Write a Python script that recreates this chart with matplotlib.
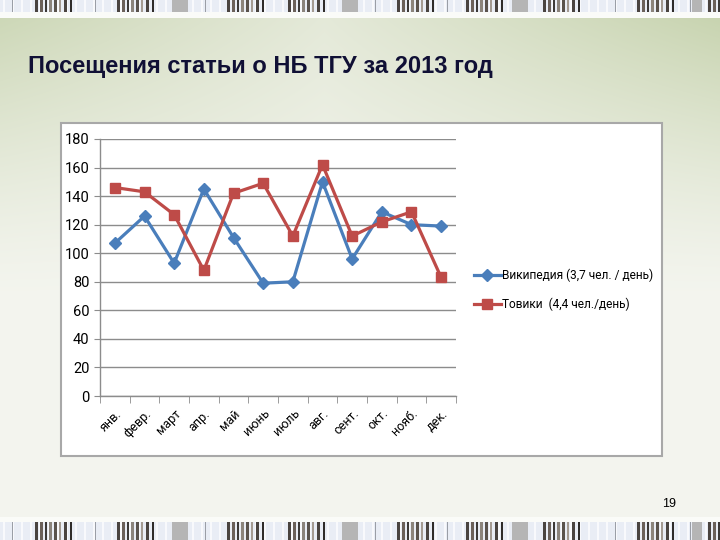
import numpy as np
import matplotlib
matplotlib.use("Agg")
import matplotlib.pyplot as plt
from matplotlib.patches import Rectangle
from matplotlib.lines import Line2D

months = ["янв.", "февр.", "март", "апр.", "май", "июнь", "июль", "авг.", "сент.", "окт.", "нояб.", "дек."]
wiki = [107, 126, 93, 145, 111, 79, 80, 150, 96, 129, 120, 119]
towiki = [146, 143, 127, 88, 142, 149, 112, 162, 112, 122, 129, 83]
wiki_label = "Википедия (3,7 чел. / день)"
towiki_label = "Товики  (4,4 чел./день)"
title = "Посещения статьи о НБ ТГУ за 2013 год"
yticks = [0, 20, 40, 60, 80, 100, 120, 140, 160, 180]

W, H = 720, 540
fig = plt.figure(figsize=(7.2, 5.4), dpi=100)

# background gradient
bg = fig.add_axes([0, 0, 1, 1], zorder=-10)
bg.set_axis_off()
yy, xx = np.mgrid[0:H, 0:W]
xf = xx / W
yf = yy / H
light = np.array([0.955, 0.96, 0.935])
green = np.array([0.77, 0.82, 0.67])
w = np.clip(1 - yf / 0.55, 0, 1) ** 1.3 * (0.35 + 0.65 * np.abs(xf - 0.45) / 0.55)
w = np.clip(w, 0, 1)
img = light[None, None, :] * (1 - w[..., None]) + green[None, None, :] * w[..., None]
bg.imshow(img, extent=[0, W, H, 0], aspect="auto")
bg.set_xlim(0, W)
bg.set_ylim(H, 0)

# barcode strips
def strip(y0, y1):
    bg.add_patch(Rectangle((0, y0), W, y1 - y0, color="#e9edf5", lw=0))
    for x in range(0, W, 9):
        bg.add_patch(Rectangle((x + 3, y0), 1.5, y1 - y0, color="#f8f9fc", lw=0))
    for x in [12, 95, 205, 262, 375, 447, 520, 615, 690]:
        bg.add_patch(Rectangle((x, y0), 1.2, y1 - y0, color="#9a9ea6", lw=0))
    sub = [(0, 3, "#4a4440"), (5, 3, "#6b615a"), (10, 2, "#3d3a38"), (14, 3, "#8b847c"),
           (19, 3, "#5a534d"), (24, 2, "#a49b92"), (29, 3, "#4a4440"), (35, 2, "#2f2c2a")]
    for c in [35, 117, 227, 288, 397, 466, 543, 637, 708]:
        for o, ww, col in sub:
            if c + o < W:
                bg.add_patch(Rectangle((c + o, y0), ww, y1 - y0, color=col, lw=0))
    for g in [172, 342, 512, 692]:
        bg.add_patch(Rectangle((g, y0), 16 if g != 692 else 10, y1 - y0, color="#b5b5b5", lw=0))

bg.add_patch(Rectangle((0, 0), W, 18, color="#fafbf8", lw=0))
strip(0, 12)
bg.add_patch(Rectangle((0, 517), W, 23, color="#fafbf8", lw=0))
strip(522, 540)

# chart frame
bg.add_patch(Rectangle((62, 124), 601, 333, color="#e2e4dc", lw=0))
bg.add_patch(Rectangle((61, 123), 601, 333, facecolor="white", edgecolor="#a8a8a8", lw=1.5))

# title and page number
fig.text(28 / W, 1 - 67 / H, title, fontsize=17, fontweight="bold", color="#101035",
         family=["Liberation Sans", "DejaVu Sans"], va="center", ha="left")
fig.text(669 / W, 1 - 504 / H, "19", fontsize=9, color="black",
         family=["Liberation Sans", "DejaVu Sans"], va="center", ha="center")

# main chart
ax = fig.add_axes([100 / W, 1 - 396 / H, 356 / W, 257 / H])
ax.set_facecolor("none")
x = np.arange(len(months))
blue = "#4a7ebb"
red = "#be4b48"
ax.plot(x, wiki, color=blue, lw=2.3, marker="D", ms=6.5, mec=blue, mfc=blue, zorder=3)
ax.plot(x, towiki, color=red, lw=2.3, marker="s", ms=7.5, mec=red, mfc=red, zorder=4)
ax.set_xlim(-0.5, len(months) - 0.5)
ax.set_ylim(0, 180)
ax.set_yticks(yticks)
ax.grid(axis="y", color="#8c8c8c", lw=1.0)
ax.set_axisbelow(True)
for s in ["top", "right"]:
    ax.spines[s].set_visible(False)
for s in ["left", "bottom"]:
    ax.spines[s].set_color("#8c8c8c")
    ax.spines[s].set_linewidth(1.0)
ax.set_xticks(x)
ax.set_xticklabels(months, rotation=45, ha="right", va="top", rotation_mode="anchor",
                   fontsize=9, family=["Roboto", "DejaVu Sans"])
ax.tick_params(axis="x", which="major", length=0, pad=8)
ax.set_xticks(np.arange(-0.5, len(months)), minor=True)
ax.tick_params(axis="x", which="minor", length=5, color="#8c8c8c", direction="out")
ax.tick_params(axis="y", length=4, color="#8c8c8c", direction="out", labelsize=10.5)
for lab in ax.get_yticklabels():
    lab.set_family(["Roboto", "DejaVu Sans"])

handles = [Line2D([], [], color=blue, lw=2.3, marker="D", ms=6.5),
           Line2D([], [], color=red, lw=2.3, marker="s", ms=7.5)]
fig.legend(handles, [wiki_label, towiki_label], loc="center left",
           bbox_to_anchor=(463 / W, 1 - 290 / H), frameon=False, handlelength=2.3,
           handletextpad=0.1, labelspacing=1.3,
           prop={"family": ["Roboto", "DejaVu Sans"], "size": 8.6})

fig.savefig("out.png", dpi=100)
